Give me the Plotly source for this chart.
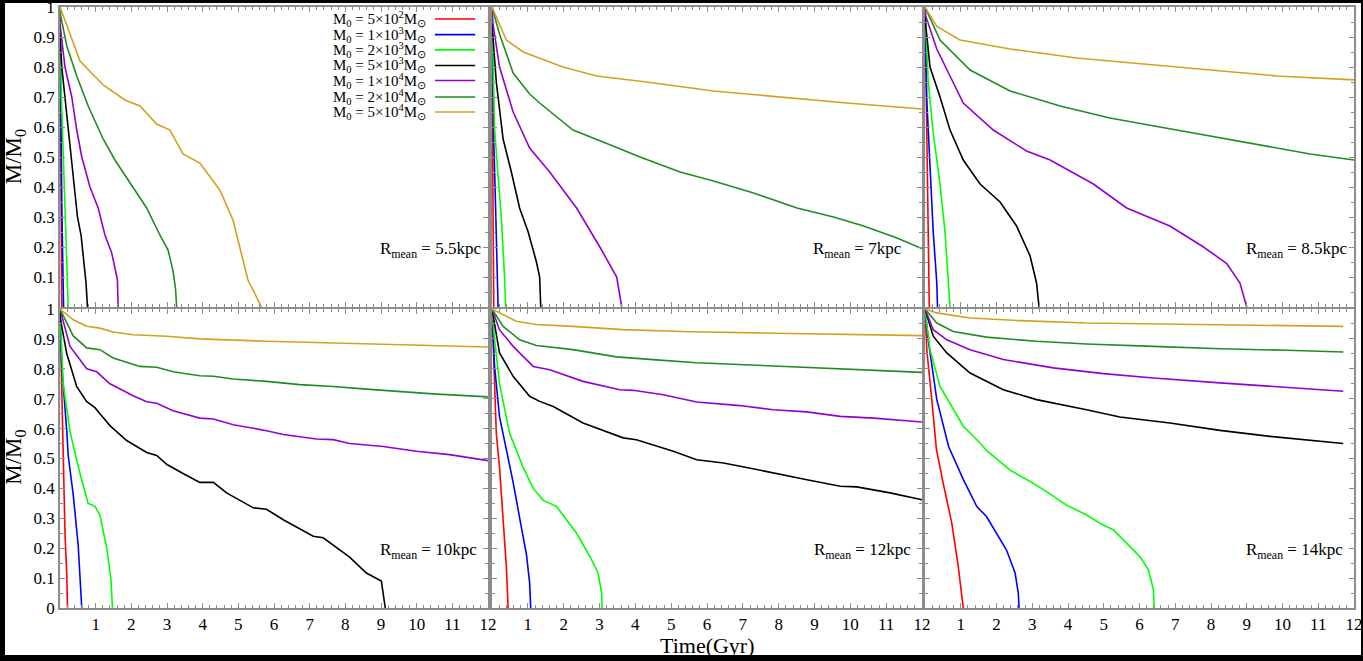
import plotly.graph_objects as go

# ---------------- data ----------------
PANEL_LABELS = ["5.5kpc", "7kpc", "8.5kpc", "10kpc", "12kpc", "14kpc"]
MASS_LABELS = ["5×10<sup>2</sup>", "1×10<sup>3</sup>", "2×10<sup>3</sup>", "5×10<sup>3</sup>",
               "1×10<sup>4</sup>", "2×10<sup>4</sup>", "5×10<sup>4</sup>"]
X_TICKS = list(range(1, 13))
Y_TICKS_TOP = [0.1, 0.2, 0.3, 0.4, 0.5, 0.6, 0.7, 0.8, 0.9, 1]
Y_TICKS_BOTTOM = [0, 0.1, 0.2, 0.3, 0.4, 0.5, 0.6, 0.7, 0.8, 0.9, 1]

# Rmean = 5.5 kpc  (series order: 5e2, 1e3, 2e3, 5e3, 1e4, 2e4, 5e4)
P55_T = [
    [0, 0.01, 0.02, 0.035, 0.05],
    [0, 0.01, 0.03, 0.05, 0.07, 0.09, 0.1],
    [0, 0.02, 0.04, 0.08, 0.12, 0.17, 0.21, 0.23],
    [0, 0.01, 0.05, 0.14, 0.23, 0.33, 0.42, 0.49, 0.59, 0.67, 0.73, 0.77],
    [0, 0.01, 0.14, 0.33, 0.47, 0.61, 0.84, 1.07, 1.26, 1.45, 1.54, 1.61, 1.63],
    [0, 0.02, 0.19, 0.47, 0.79, 1.21, 1.54, 2.05, 2.43, 2.8, 3.03, 3.17, 3.24, 3.27],
    [0, 0.19, 0.56, 1.21, 1.82, 2.24, 2.71, 3.08, 3.45, 3.92, 4.48, 4.85, 5.04, 5.27, 5.65],
]
P55_M = [
    [1, 0.7, 0.45, 0.2, 0],
    [1, 0.8, 0.55, 0.35, 0.2, 0.08, 0],
    [1, 0.8, 0.7, 0.55, 0.4, 0.2, 0.07, 0],
    [1, 0.88, 0.8, 0.7, 0.59, 0.5, 0.39, 0.3, 0.24, 0.14, 0.08, 0],
    [1, 0.93, 0.8, 0.7, 0.59, 0.5, 0.4, 0.33, 0.24, 0.18, 0.13, 0.09, 0],
    [1, 0.97, 0.87, 0.77, 0.67, 0.56, 0.49, 0.4, 0.33, 0.24, 0.19, 0.12, 0.06, 0],
    [1, 0.94, 0.82, 0.74, 0.69, 0.67, 0.61, 0.59, 0.51, 0.48, 0.39, 0.29, 0.2, 0.09, 0.0],
]

# Rmean = 7 kpc
P7_T = [
    [0, 0.01, 0.03, 0.05],
    [0, 0.02, 0.05, 0.09, 0.13, 0.17],
    [0, 0.02, 0.07, 0.16, 0.26, 0.35, 0.38],
    [0, 0.02, 0.12, 0.31, 0.54, 0.77, 1.01, 1.24, 1.33, 1.36],
    [0, 0.02, 0.21, 0.59, 1.05, 1.61, 2.36, 3.01, 3.48, 3.62],
    [0, 0.21, 0.59, 1.05, 1.33, 2.26, 3.1, 4.13, 5.25, 6.18, 7.3, 8.51, 9.53, 10.37, 11.3, 12],
    [0, 0.21, 0.4, 0.87, 1.98, 2.92, 4.31, 6.18, 8.04, 9.9, 12],
]
P7_M = [
    [1, 0.6, 0.3, 0],
    [1, 0.75, 0.55, 0.38, 0.2, 0],
    [1, 0.85, 0.6, 0.45, 0.3, 0.1, 0],
    [1, 0.91, 0.75, 0.56, 0.45, 0.33, 0.25, 0.15, 0.1, 0],
    [1, 0.95, 0.8, 0.65, 0.53, 0.45, 0.33, 0.2, 0.1, 0],
    [1, 0.91, 0.78, 0.71, 0.68, 0.59, 0.55, 0.5, 0.45, 0.42, 0.38, 0.33, 0.3, 0.27, 0.23, 0.195],
    [1, 0.94, 0.89, 0.85, 0.8, 0.77, 0.75, 0.72, 0.7, 0.68, 0.66],
]

# Rmean = 8.5 kpc
P85_T = [
    [0, 0.03, 0.06, 0.09, 0.12],
    [0, 0.05, 0.14, 0.23, 0.33, 0.35],
    [0, 0.09, 0.23, 0.42, 0.56, 0.65, 0.7],
    [0, 0.02, 0.14, 0.42, 0.7, 1.07, 1.54, 2.1, 2.56, 2.94, 3.12, 3.19],
    [0, 0.02, 0.33, 1.07, 1.91, 2.84, 3.5, 4.71, 5.64, 6.85, 7.79, 8.44, 8.81, 9.0],
    [0, 0.42, 1.26, 2.38, 3.78, 5.17, 6.57, 7.97, 9.37, 10.77, 12],
    [0, 0.33, 0.98, 2.38, 4.24, 6.11, 7.97, 9.84, 12],
]
P85_M = [
    [1, 0.7, 0.45, 0.2, 0],
    [1, 0.69, 0.47, 0.25, 0.08, 0],
    [1, 0.75, 0.58, 0.41, 0.25, 0.11, 0],
    [1, 0.94, 0.8, 0.7, 0.59, 0.49, 0.41, 0.35, 0.27, 0.17, 0.08, 0],
    [1, 0.97, 0.86, 0.68, 0.59, 0.52, 0.49, 0.41, 0.33, 0.27, 0.2, 0.145, 0.08, 0],
    [1, 0.89, 0.79, 0.72, 0.67, 0.63, 0.6, 0.57, 0.54, 0.51, 0.49],
    [1, 0.935, 0.89, 0.86, 0.83, 0.81, 0.79, 0.77, 0.757],
]

# Rmean = 10 kpc
P10_T = [
    [0, 0.05, 0.09, 0.14, 0.19, 0.21],
    [0, 0.05, 0.19, 0.23, 0.37, 0.51, 0.61],
    [0, 0.09, 0.28, 0.56, 0.79, 0.98, 1.12, 1.31, 1.43, 1.47],
    [0, 0.02, 0.19, 0.47, 0.75, 0.98, 1.12, 1.4, 1.87, 2.43, 2.71, 3.0, 3.45, 3.92, 4.3,
     4.67, 5.42, 5.79, 6.26, 7.1, 7.38, 8.12, 8.59, 8.78, 9.01, 9.12],
    [0, 0.28, 0.75, 1.03, 1.4, 2.05, 2.43, 2.71, 3.17, 3.92, 4.3, 4.86, 5.79, 6.26, 7.19,
     7.66, 8.12, 9.06, 9.99, 10.92, 12],
    [0, 0.37, 0.75, 1.12, 1.49, 2.24, 2.71, 3.17, 3.92, 4.3, 4.86, 5.79, 6.72, 7.66, 8.59,
     9.52, 10.46, 12],
    [0, 0.37, 0.75, 1.12, 1.49, 2.05, 2.99, 3.92, 5.79, 7.66, 9.52, 12],
]
P10_M = [
    [1, 0.7, 0.47, 0.25, 0.11, 0],
    [1, 0.81, 0.59, 0.51, 0.38, 0.21, 0],
    [1, 0.75, 0.59, 0.45, 0.35, 0.34, 0.31, 0.2, 0.095, 0],
    [1, 0.96, 0.85, 0.74, 0.69, 0.67, 0.65, 0.61, 0.56, 0.52, 0.51, 0.48, 0.45, 0.42, 0.42,
     0.385, 0.335, 0.33, 0.295, 0.24, 0.235, 0.17, 0.117, 0.106, 0.09, 0],
    [1, 0.875, 0.8, 0.79, 0.75, 0.71, 0.69, 0.685, 0.66, 0.635, 0.632, 0.613, 0.593, 0.58,
     0.565, 0.563, 0.55, 0.54, 0.524, 0.513, 0.493],
    [1, 0.91, 0.87, 0.864, 0.836, 0.808, 0.805, 0.79, 0.777, 0.775, 0.766, 0.758, 0.747,
     0.741, 0.732, 0.724, 0.716, 0.706],
    [1, 0.964, 0.942, 0.936, 0.923, 0.914, 0.909, 0.9, 0.892, 0.886, 0.881, 0.873],
]

# Rmean = 12 kpc
P12_T = [
    [0, 0.07, 0.12, 0.21, 0.31, 0.4, 0.45],
    [0, 0.07, 0.21, 0.4, 0.59, 0.82, 0.96, 1.05, 1.08],
    [0, 0.07, 0.21, 0.49, 0.87, 1.15, 1.43, 1.8, 2.08, 2.36, 2.73, 2.96, 3.06, 3.07],
    [0, 0.21, 0.59, 1.05, 1.33, 1.71, 2.54, 3.66, 4.03, 5.06, 5.71, 6.46, 7.39, 7.86, 8.79,
     9.72, 10.18, 11.11, 12],
    [0, 0.21, 0.59, 1.15, 1.61, 2.54, 3.57, 3.94, 4.78, 5.71, 6.92, 7.85, 8.78, 9.72, 10.65, 12],
    [0, 0.31, 0.77, 1.24, 2.26, 3.47, 4.59, 5.71, 7.39, 9.25, 10.18, 12],
    [0, 0.31, 0.68, 1.24, 2.26, 3.66, 5.52, 7.39, 9.25, 12],
]
P12_M = [
    [1, 0.75, 0.585, 0.47, 0.31, 0.14, 0],
    [1, 0.81, 0.64, 0.53, 0.42, 0.27, 0.18, 0.084, 0],
    [1, 0.9, 0.75, 0.585, 0.47, 0.4, 0.36, 0.34, 0.295, 0.25, 0.173, 0.117, 0.05, 0],
    [1, 0.853, 0.775, 0.708, 0.691, 0.674, 0.619, 0.569, 0.563, 0.524, 0.496, 0.485, 0.463,
     0.451, 0.429, 0.407, 0.405, 0.385, 0.362],
    [1, 0.93, 0.875, 0.808, 0.797, 0.758, 0.73, 0.728, 0.713, 0.689, 0.677, 0.663, 0.656,
     0.641, 0.635, 0.622],
    [1, 0.942, 0.897, 0.878, 0.864, 0.84, 0.83, 0.82, 0.812, 0.803, 0.797, 0.788],
    [1, 0.981, 0.959, 0.948, 0.942, 0.931, 0.924, 0.92, 0.916, 0.911],
]

# Rmean = 14 kpc
P14_T = [
    [0, 0.05, 0.19, 0.32, 0.51, 0.63, 0.75, 0.93, 1.07],
    [0, 0.09, 0.33, 0.66, 1.07, 1.45, 1.72, 2.0, 2.28, 2.52, 2.61, 2.63],
    [0, 0.14, 0.42, 0.79, 1.07, 1.54, 1.72, 2.38, 3.03, 3.4, 3.96, 4.52, 4.9, 5.27, 5.73,
     6.01, 6.25, 6.39, 6.41],
    [0, 0.23, 0.61, 1.26, 2.19, 3.12, 4.52, 5.45, 6.85, 8.25, 9.65, 11.05, 11.7],
    [0, 0.23, 0.61, 1.26, 2.19, 3.59, 4.99, 6.39, 8.25, 10.12, 11.7],
    [0, 0.33, 0.79, 1.72, 3.12, 4.52, 6.39, 8.25, 10.12, 11.7],
    [0, 0.33, 1.26, 2.66, 4.52, 6.39, 8.25, 10.12, 11.7],
]
P14_M = [
    [1, 0.864, 0.697, 0.53, 0.417, 0.35, 0.283, 0.139, 0],
    [1, 0.897, 0.697, 0.54, 0.43, 0.339, 0.306, 0.25, 0.194, 0.117, 0.05, 0],
    [1, 0.864, 0.741, 0.663, 0.608, 0.552, 0.527, 0.461, 0.417, 0.389, 0.344, 0.311, 0.283,
     0.261, 0.206, 0.172, 0.128, 0.061, 0],
    [1, 0.909, 0.853, 0.786, 0.73, 0.697, 0.663, 0.639, 0.619, 0.594, 0.574, 0.557, 0.55],
    [1, 0.931, 0.897, 0.864, 0.831, 0.803, 0.784, 0.769, 0.753, 0.739, 0.725],
    [1, 0.953, 0.925, 0.906, 0.892, 0.883, 0.875, 0.867, 0.862, 0.856],
    [1, 0.987, 0.97, 0.961, 0.953, 0.95, 0.946, 0.944, 0.942],
]

PANELS_T = [P55_T, P7_T, P85_T, P10_T, P12_T, P14_T]
PANELS_M = [P55_M, P7_M, P85_M, P10_M, P12_M, P14_M]

# ---------------- style ----------------
COLORS = ["#ff0000", "#0000ff", "#00ff00", "#000000", "#9400d3", "#228b22", "#d4a020"]
FONT = "Liberation Serif, Times New Roman, serif"
FRAME = "#8c8c8c"
W, H = 1363, 661
ML, MR, MT, MB = 60, 9, 7, 53
PW, PH = W - ML - MR, H - MT - MB
COL_PX = [(60, 488), (492, 922), (925, 1354)]
ROW_PX = [(7, 307), (309, 608)]
LABEL_X = [0.988, 0.958, 0.988, 0.98, 0.979, 0.979]

fig = go.Figure()

for p in range(6):
    r, c = divmod(p, 3)
    idx = p + 1
    xa = "x" if idx == 1 else f"x{idx}"
    ya = "y" if idx == 1 else f"y{idx}"
    for s in range(7):
        fig.add_trace(go.Scatter(
            x=PANELS_T[p][s], y=PANELS_M[p][s], mode="lines",
            line=dict(color=COLORS[s], width=1.6), xaxis=xa, yaxis=ya,
            showlegend=False, hoverinfo="skip"))

    x0, x1 = COL_PX[c]
    y0, y1 = ROW_PX[r]
    xdom = [(x0 - ML) / PW, (x1 - ML) / PW]
    ydom = [(H - MB - y1) / PH, (H - MB - y0) / PH]

    xaxis = dict(
        domain=xdom, range=[0, 12], anchor=ya,
        tickmode="array", tickvals=X_TICKS,
        showticklabels=(r == 1), ticklabeloverflow="allow",
        ticks="inside", ticklen=5, tickwidth=1, tickcolor=FRAME,
        minor=dict(dtick=0.2, tick0=0, ticks="inside", ticklen=3, tickcolor=FRAME),
        showline=True, linecolor=FRAME, linewidth=1.5, mirror="ticks",
        showgrid=False, zeroline=False,
        tickfont=dict(family=FONT, size=17, color="black"),
    )
    yaxis = dict(
        domain=ydom, range=[0, 1], anchor=xa,
        tickmode="array", tickvals=(Y_TICKS_TOP if r == 0 else Y_TICKS_BOTTOM),
        showticklabels=(c == 0), ticklabeloverflow="allow",
        ticks="inside", ticklen=5, tickwidth=1, tickcolor=FRAME,
        minor=dict(dtick=0.05, tick0=0, ticks="inside", ticklen=3, tickcolor=FRAME),
        showline=True, linecolor=FRAME, linewidth=1.5, mirror="ticks",
        showgrid=False, zeroline=False,
        tickfont=dict(family=FONT, size=17, color="black"),
    )
    fig.update_layout(**{("xaxis" if idx == 1 else f"xaxis{idx}"): xaxis,
                         ("yaxis" if idx == 1 else f"yaxis{idx}"): yaxis})

    fig.add_annotation(
        text=f"R<sub>mean</sub> = {PANEL_LABELS[p]}",
        xref=f"{xa} domain", yref=ya, x=LABEL_X[p], y=0.19,
        xanchor="right", yanchor="middle", showarrow=False,
        font=dict(family=FONT, size=17, color="black"))

# legend drawn in the first panel (text left, sample line right)
LEG_Y = [0.96, 0.908, 0.857, 0.805, 0.755, 0.7, 0.65]
for s in range(7):
    fig.add_annotation(
        text=f"M<sub>0</sub> = {MASS_LABELS[s]}M<sub>⊙</sub>",
        xref="x domain", yref="y domain", x=0.86, y=LEG_Y[s],
        xanchor="right", yanchor="middle", showarrow=False,
        font=dict(family=FONT, size=15, color="black"))
    fig.add_shape(type="line", xref="x domain", yref="y domain",
                  x0=0.876, x1=0.97, y0=LEG_Y[s], y1=LEG_Y[s],
                  line=dict(color=COLORS[s], width=1.6))

# axis titles
for yc in [0.75, 0.25]:
    fig.add_annotation(text="M/M<sub>0</sub>", xref="paper", yref="paper",
                       x=(15 - ML) / PW, y=yc, textangle=-90,
                       xanchor="center", yanchor="middle", showarrow=False,
                       font=dict(family=FONT, size=23, color="black"))
fig.add_annotation(text="Time(Gyr)", xref="paper", yref="paper",
                   x=(707 - ML) / PW, y=(H - MB - 645) / PH,
                   xanchor="center", yanchor="middle", showarrow=False,
                   font=dict(family=FONT, size=22, color="black"))

# white page on black surround
fig.add_shape(type="rect", xref="paper", yref="paper", layer="below",
              x0=(5 - ML) / PW, x1=(1361 - ML) / PW,
              y0=(H - MB - 655) / PH, y1=(H - MB - 3) / PH,
              fillcolor="white", line=dict(width=0))

fig.update_layout(
    width=W, height=H,
    margin=dict(l=ML, r=MR, t=MT, b=MB, autoexpand=False),
    paper_bgcolor="black", plot_bgcolor="white",
    showlegend=False,
    font=dict(family=FONT, color="black"),
)

fig.write_html(
    "out.html",
    config={"displayModeBar": False},
    post_script="document.body.style.margin='0';document.body.style.background='black';",
)
